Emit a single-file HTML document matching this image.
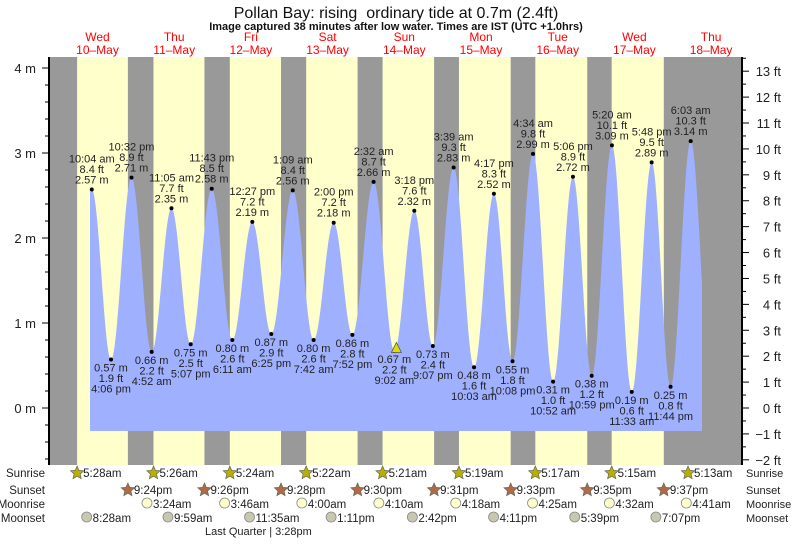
<!DOCTYPE html>
<html><head><meta charset="utf-8"><style>
body{margin:0;background:#fff;}
svg text{font-family:"Liberation Sans",Arial,sans-serif;}
</style></head><body>
<svg id="s" width="793" height="539" xmlns="http://www.w3.org/2000/svg"></svg>
<script>
const S=document.getElementById('s');
let h='';
const X0=59.7, PH=3.186;
const tx=t=>X0+t*PH;
const ym=m=>408-m*85;
function T(x,y,s,o){o=o||{};h+=`<text x="${x}" y="${y}" font-size="${o.fs||11}" fill="${o.c||'#222'}" text-anchor="${o.a||'middle'}" ${o.w?'font-weight="bold"':''}>${s}</text>`;}
h+=`<rect x="49" y="57" width="693" height="408" fill="#999"/>`;
const sr=[5+28/60,5+26/60,5+24/60,5+22/60,5+21/60,5+19/60,5+17/60,5+15/60];
const ss=[21.4,21+26/60,21+28/60,21.5,21+31/60,21+33/60,21+35/60,21+37/60];
for(let d=0;d<8;d++){const a=tx(d*24+sr[d]),b=tx(d*24+ss[d]);h+=`<rect x="${a}" y="57" width="${b-a}" height="408" fill="#ffffcc"/>`;}
const td=[[3.9,0.6],[10.067,2.57,'10:04 am','8.4 ft'],[16.1,0.57,'4:06 pm','1.9 ft'],[22.533,2.71,'10:32 pm','8.9 ft'],[28.867,0.66,'4:52 am','2.2 ft'],[35.083,2.35,'11:05 am','7.7 ft'],[41.117,0.75,'5:07 pm','2.5 ft'],[47.717,2.58,'11:43 pm','8.5 ft'],[54.183,0.80,'6:11 am','2.6 ft'],[60.45,2.19,'12:27 pm','7.2 ft'],[66.417,0.87,'6:25 pm','2.9 ft'],[73.15,2.56,'1:09 am','8.4 ft'],[79.7,0.80,'7:42 am','2.6 ft'],[86.0,2.18,'2:00 pm','7.2 ft'],[91.867,0.86,'7:52 pm','2.8 ft'],[98.533,2.66,'2:32 am','8.7 ft'],[105.033,0.67,'9:02 am','2.2 ft'],[111.3,2.32,'3:18 pm','7.6 ft'],[117.117,0.73,'9:07 pm','2.4 ft'],[123.65,2.83,'3:39 am','9.3 ft'],[130.05,0.48,'10:03 am','1.6 ft'],[136.283,2.52,'4:17 pm','8.3 ft'],[142.133,0.55,'10:08 pm','1.8 ft'],[148.567,2.99,'4:34 am','9.8 ft'],[154.867,0.31,'10:52 am','1.0 ft'],[161.1,2.72,'5:06 pm','8.9 ft'],[166.983,0.38,'10:59 pm','1.2 ft'],[173.333,3.09,'5:20 am','10.1 ft'],[179.55,0.19,'11:33 am','0.6 ft'],[185.8,2.89,'5:48 pm','9.5 ft'],[191.733,0.25,'11:44 pm','0.8 ft'],[198.05,3.14,'6:03 am','10.3 ft'],[204.4,0.3]];
function lv(t){for(let i=0;i<td.length-1;i++){const[a,ha]=td[i],[b,hb]=td[i+1];if(t>=a&&t<=b){const f=(t-a)/(b-a);return ha+(hb-ha)*(1-Math.cos(Math.PI*f))/2;}}return 0;}
let p=`M90 431 `;
for(let x=90;x<=702;x+=0.5){p+=`L${x} ${ym(lv((x-X0)/PH)).toFixed(1)} `;}
p+='L702 431Z';
h+=`<path d="${p}" fill="#9fb0ff"/>`;
for(let i=1;i<td.length-1;i++){const[t,m,tm,ft]=td[i];const x=tx(t),y=ym(m);
 h+=`<circle cx="${x}" cy="${y}" r="2" fill="#000"/>`;
 if(m>1.5){T(x,y-27,tm);T(x,y-16.5,ft);T(x,y-6,m.toFixed(2)+' m');}
 else{T(x,y+12,m.toFixed(2)+' m');T(x,y+22.5,ft);T(x,y+33,tm);}
}
{const x=396.4,y=348.5;h+=`<polygon points="${x-5},${y+4} ${x+5},${y+4} ${x},${y-6}" fill="#dddd00" stroke="#555" stroke-width="0.8"/>`;}
h+=`<line x1="49" y1="57" x2="49" y2="465" stroke="#000" stroke-width="2"/><line x1="742" y1="57" x2="742" y2="465" stroke="#000" stroke-width="2"/>`;
for(let v=-0.6;v<=4.15;v+=0.2){const y=ym(v);const maj=Math.abs(v-Math.round(v))<0.01;h+=`<line x1="${maj?42:45}" y1="${y}" x2="49" y2="${y}" stroke="#000"/>`;if(maj)T(36,y+5,Math.round(v)+' m',{fs:13,a:'end'});}
for(let f=-2;f<=13.6;f+=0.5){const y=ym(f*0.3048);const maj=Math.abs(f-Math.round(f))<0.01;h+=`<line x1="742" y1="${y}" x2="${maj?749:746}" y2="${y}" stroke="#000"/>`;if(maj){const r=Math.round(f);T(781,y+5,(r<0?'\u2212'+(-r):r)+' ft',{fs:13,a:'end'});}}
T(396,18,'Pollan Bay: rising&#160; ordinary tide at 0.7m (2.4ft)',{fs:16,c:'#111'});
T(396,30,'Image captured 38 minutes after low water. Times are IST (UTC +1.0hrs)',{fs:11,w:1,c:'#111'});
const dn=['Wed','Thu','Fri','Sat','Sun','Mon','Tue','Wed','Thu'];
for(let d=0;d<9;d++){const x=97.5+d*76.7;T(x,41,dn[d],{fs:12,c:'#f00'});T(x,54,(10+d)+'\u2013May',{fs:12,c:'#f00'});}
const rows=[['Sunrise',477],['Sunset',494],['Moonrise',508],['Moonset',522]];
for(const[n,y]of rows){T(45,y,n,{fs:11.5,a:'end'});T(746,y,n,{fs:11,a:'start'});}
function star(x,y,c){let pts='';for(let k=0;k<10;k++){const r=k%2?3.2:7,a=-Math.PI/2+k*Math.PI/5;pts+=`${(x+r*Math.cos(a)).toFixed(1)},${(y+r*Math.sin(a)).toFixed(1)} `;}h+=`<polygon points="${pts}" fill="${c}" stroke="#665" stroke-width="0.7"/>`;}
const srl=['5:28am','5:26am','5:24am','5:22am','5:21am','5:19am','5:17am','5:15am','5:13am'];
for(let d=0;d<9;d++){const t=d*24+(d<8?sr[d]:5+13/60),x=tx(t);star(x,473,'#b8b000');T(x+6,477,srl[d],{fs:11.5,a:'start'});}
const ssl=['9:24pm','9:26pm','9:28pm','9:30pm','9:31pm','9:33pm','9:35pm','9:37pm'];
for(let d=0;d<8;d++){const x=tx(d*24+ss[d]);star(x,490,'#b06a48');T(x+6,494,ssl[d],{fs:11.5,a:'start'});}
const mr=[[3.4,'3:24am'],[3+46/60,'3:46am'],[4,'4:00am'],[4+10/60,'4:10am'],[4.3,'4:18am'],[4+25/60,'4:25am'],[4+32/60,'4:32am'],[4+41/60,'4:41am']];
mr.forEach((m,i)=>{const x=tx((i+1)*24+m[0]);h+=`<circle cx="${x}" cy="503" r="5" fill="#ffffcc" stroke="#888" stroke-width="0.8"/>`;T(x+6,508,m[1],{fs:11.5,a:'start'});});
const ms=[[8+28/60,'8:28am'],[9+59/60,'9:59am'],[11+35/60,'11:35am'],[13+11/60,'1:11pm'],[14.7,'2:42pm'],[16+11/60,'4:11pm'],[17.65,'5:39pm'],[19+7/60,'7:07pm']];
ms.forEach((m,i)=>{const x=tx(i*24+m[0]);h+=`<circle cx="${x}" cy="517" r="5" fill="#c8c8b0" stroke="#888" stroke-width="0.8"/>`;T(x+6,522,m[1],{fs:11.5,a:'start'});});
T(205,535,'Last Quarter | 3:28pm',{fs:11,a:'start'});
S.innerHTML=h;
</script>
</body></html>
